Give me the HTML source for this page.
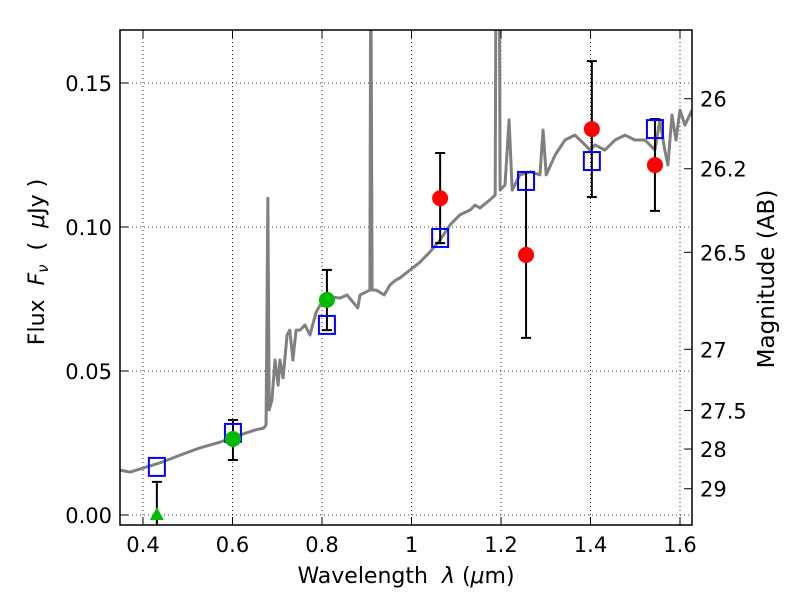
<!DOCTYPE html>
<html><head><meta charset="utf-8"><style>
body{margin:0;background:#fff;}
svg{font-family:"DejaVu Sans","Liberation Sans",sans-serif;}
.pre{white-space:pre;}
</style></head><body>
<svg id="c" width="800" height="600"></svg>
<script>
const specLam=[0.349,0.371,0.400,0.438,0.483,0.527,0.572,0.617,0.650,0.670,0.675,0.679,0.682,0.688,0.695,0.702,0.706,0.713,0.722,0.728,0.735,0.742,0.751,0.762,0.773,0.787,0.796,0.809,0.822,0.840,0.856,0.880,0.885,0.907,0.909,0.912,0.921,0.939,0.952,0.965,0.974,0.997,1.019,1.041,1.064,1.086,1.108,1.131,1.142,1.153,1.175,1.187,1.189,1.196,1.198,1.209,1.218,1.225,1.231,1.242,1.265,1.287,1.294,1.301,1.321,1.343,1.365,1.388,1.399,1.410,1.432,1.455,1.477,1.499,1.522,1.544,1.555,1.566,1.573,1.582,1.591,1.600,1.611,1.627];
const specFlux=[0.0156,0.0149,0.0163,0.0181,0.0208,0.0233,0.0253,0.0278,0.0295,0.0302,0.0313,0.110,0.0365,0.0399,0.0538,0.0451,0.0538,0.0476,0.0625,0.0642,0.0538,0.0642,0.0642,0.066,0.0625,0.0705,0.0729,0.0747,0.0757,0.0753,0.0764,0.0719,0.0764,0.0781,0.2,0.0781,0.0781,0.0764,0.0799,0.0816,0.0823,0.0851,0.0878,0.0913,0.0955,0.1007,0.1042,0.1059,0.1076,0.1066,0.1094,0.1111,0.2,0.2,0.1128,0.1146,0.1372,0.1128,0.1146,0.1181,0.1191,0.1181,0.1337,0.1181,0.125,0.1302,0.1319,0.1285,0.1267,0.1285,0.1267,0.1302,0.1319,0.1302,0.1302,0.1267,0.1372,0.1267,0.1215,0.1389,0.1302,0.1406,0.1354,0.1406];
const modelLam=[0.431,0.601,0.811,1.064,1.256,1.403,1.544];
const modelFlux=[0.0167,0.0285,0.066,0.0962,0.116,0.1229,0.134];
const greenLam=[0.431,0.601,0.811];
const greenFlux=[0.0,0.0264,0.0747];
const greenLo=[-0.01,0.0191,0.0642];
const greenHi=[0.0115,0.033,0.0851];
const redLam=[1.064,1.256,1.403,1.544];
const redFlux=[0.110,0.0903,0.134,0.1215];
const redLo=[0.0944,0.0615,0.1104,0.1056];
const redHi=[0.1257,0.1191,0.1576,0.1375];
const xTicks=[0.4,0.6,0.8,1.0,1.2,1.4,1.6];
const xTickLabels=["0.4","0.6","0.8","1","1.2","1.4","1.6"];
const yTicks=[0,0.05,0.10,0.15];
const yTickLabels=["0.00","0.05","0.10","0.15"];
const magTicks=[26,26.2,26.5,27,27.5,28,29];
const magLabels=["26","26.2","26.5","27","27.5","28","29"];

const L=120,R=692,T=30,B=525;
const X=v=>143+(v-0.4)*447.5;
const Y=v=>515-v*2880;
const svg=document.getElementById('c');
const NS='http://www.w3.org/2000/svg';
function mk(t,a,p){const e=document.createElementNS(NS,t);for(const k in a)e.setAttribute(k,a[k]);(p||svg).appendChild(e);return e;}
const defs=mk('defs',{});const cp=mk('clipPath',{id:'pc'},defs);mk('rect',{x:L,y:T,width:R-L,height:B-T},cp);
const g=mk('g',{'clip-path':'url(#pc)'});
xTicks.forEach(v=>{const l=mk('line',{x1:X(v),x2:X(v),y1:T,y2:B,stroke:'#000','stroke-width':0.8,'stroke-dasharray':'1,3'},g);

});
yTicks.forEach(v=>{const l=mk('line',{x1:L,x2:R,y1:Y(v),y2:Y(v),stroke:'#000','stroke-width':0.8,'stroke-dasharray':'1,3'},g);

});
const sp=mk('polyline',{points:specLam.map((l,i)=>X(l)+','+Y(specFlux[i])).join(' '),fill:'none',stroke:'#808080','stroke-width':3,'stroke-linejoin':'round'},g);


function err(x,lo,hi,name){const e=mk('g',{},g);


mk('line',{x1:X(x),x2:X(x),y1:Y(lo),y2:Y(hi),stroke:'#000','stroke-width':2},e);
[lo,hi].forEach(v=>mk('line',{x1:X(x)-5,x2:X(x)+5,y1:Y(v),y2:Y(v),stroke:'#000','stroke-width':2},e));}
greenLam.forEach((l,i)=>err(l,greenLo[i],greenHi[i],'green-errorbar'));
redLam.forEach((l,i)=>err(l,redLo[i],redHi[i],'red-errorbar'));
modelLam.forEach((l,i)=>{const r=mk('rect',{x:X(l)-8,y:Y(modelFlux[i])-9,width:16,height:18,fill:'none',stroke:'#0000ff','stroke-width':2},g);

});
greenLam.forEach((l,i)=>{let m;
if(i===0){const x=X(l),y=Y(greenFlux[i]);m=mk('polygon',{points:`${x},${y-8} ${x-7},${y+5} ${x+7},${y+5}`,fill:'#00bb00'},g);}
else m=mk('circle',{cx:X(l),cy:Y(greenFlux[i]),r:8,fill:'#00bb00'},g);

});
redLam.forEach((l,i)=>{const m=mk('circle',{cx:X(l),cy:Y(redFlux[i]),r:8,fill:'#ff0000'},g);

});
const fr=mk('rect',{x:L,y:T,width:R-L,height:B-T,fill:'none',stroke:'#000','stroke-width':1.5});


xTicks.forEach((v,i)=>{mk('line',{x1:X(v),x2:X(v),y1:B,y2:B-8,stroke:'#000'});mk('line',{x1:X(v),x2:X(v),y1:T,y2:T+8,stroke:'#000'});
const t=mk('text',{x:X(v),y:B+27,'text-anchor':'middle','font-size':21});t.textContent=xTickLabels[i];

});
yTicks.forEach((v,i)=>{mk('line',{x1:L,x2:L+8,y1:Y(v),y2:Y(v),stroke:'#000'});
const t=mk('text',{x:L-8,y:Y(v)+8,'text-anchor':'end','font-size':21});t.textContent=yTickLabels[i];

});
magTicks.forEach((m,i)=>{const f=Math.pow(10,(23.9-m)/2.5);const y=Y(f);
mk('line',{x1:R,x2:R-8,y1:y,y2:y,stroke:'#000'});
const t=mk('text',{x:R+8,y:y+8,'font-size':21});t.textContent=magLabels[i];

});
const xl=mk('text',{x:406,y:583,'text-anchor':'middle','font-size':22,'class':'pre'});xl.innerHTML='Wavelength  <tspan font-style="italic">λ</tspan> (<tspan font-style="italic">μ</tspan>m)';


const yl=mk('text',{x:0,y:0,'text-anchor':'middle','font-size':22,'class':'pre',transform:'translate(44,262) rotate(-90)'});yl.innerHTML='Flux  <tspan font-style="italic">F</tspan><tspan font-style="italic" font-size="15" dy="4">ν</tspan><tspan dy="-4">  (  </tspan><tspan font-style="italic">μ</tspan>Jy )';


const rl=mk('text',{x:0,y:0,'text-anchor':'middle','font-size':23,transform:'translate(774,279) rotate(-90)'});rl.textContent='Magnitude (AB)';


</script>
</body></html>
